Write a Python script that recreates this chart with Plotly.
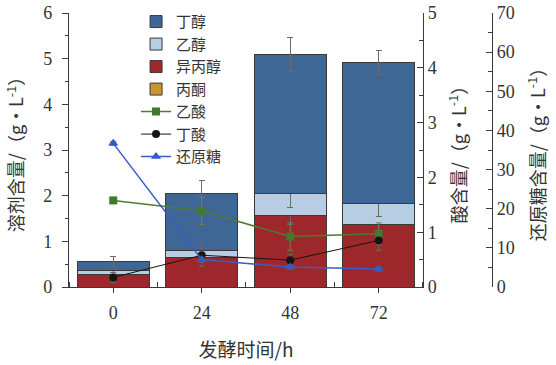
import plotly.graph_objects as go

# ---------------- data ----------------
time_labels = ["0", "24", "48", "72"]
x_pos = [0, 1, 2, 3]

butanol = [0.20, 1.24, 3.04, 3.08]
ethanol = [0.085, 0.16, 0.49, 0.455]
isopropanol = [0.275, 0.65, 1.56, 1.375]
acetone = [0.0, 0.0, 0.0, 0.0]

butanol_err = [0.11, 0.28, 0.38, 0.26]
ethanol_err = [0.05, 0.10, 0.30, 0.28]
isopropanol_err = [0.05, 0.06, 0.20, 0.20]

acetic = [1.58, 1.39, 0.92, 0.97]
acetic_err = [0.05, 0.25, 0.25, 0.20]
butyric = [0.175, 0.58, 0.49, 0.85]
butyric_err = [0.09, 0.20, 0.10, 0.18]
sugar = [36.7, 7.0, 5.1, 4.6]
sugar_err = [0.5, 0.6, 0.5, 0.5]

# ---------------- style ----------------
FONT = "Liberation Serif, Noto Sans CJK SC, serif"
TFONT = "Noto Sans CJK SC, Liberation Serif, sans-serif"
AX = "#3a3a3a"
ERR = "#6a6a6a"
BAR_W = 0.81

L_M, R_M, T_M, B_M = 69, 556 - 491.7, 12.7, 365 - 287.3
PAPER_W = 556 - L_M - R_M
PAPER_H = 365 - T_M - B_M
PLOT_W = 353.7

fig = go.Figure()

def bar(name, vals, errs, color, rank):
    fig.add_trace(go.Bar(
        x=x_pos, y=vals, name=name, width=BAR_W, legendrank=rank,
        marker=dict(color=color, line=dict(color="#3a3a3a", width=1)),
        error_y=dict(type="data", array=errs, color=ERR, thickness=1, width=3) if errs else None,
    ))

bar("丙酮", acetone, None, "#c9952c", 4)
bar("异丙醇", isopropanol, isopropanol_err, "#9e272b", 3)
bar("乙醇", ethanol, ethanol_err, "#b6cde3", 2)
bar("丁醇", butanol, butanol_err, "#3f6795", 1)

fig.add_trace(go.Scatter(
    x=x_pos, y=acetic, name="乙酸", yaxis="y2", mode="lines+markers", legendrank=5,
    line=dict(color="#4f7a36", width=1.5),
    marker=dict(symbol="square", size=8, color="#3d7a2c"),
    error_y=dict(type="data", array=acetic_err, color="#7a7a55", thickness=1, width=3),
))
fig.add_trace(go.Scatter(
    x=x_pos, y=butyric, name="丁酸", yaxis="y2", mode="lines+markers", legendrank=6,
    line=dict(color="#151515", width=1),
    marker=dict(symbol="circle", size=8, color="#151515"),
    error_y=dict(type="data", array=butyric_err, color=ERR, thickness=1, width=3),
))
fig.add_trace(go.Scatter(
    x=x_pos, y=sugar, name="还原糖", yaxis="y3", mode="lines+markers", legendrank=7,
    line=dict(color="#3a5cc4", width=1.5),
    marker=dict(symbol="triangle-up", size=9, color="#2f5cc8"),
    error_y=dict(type="data", array=sugar_err, color=ERR, thickness=1, width=3),
))

DOM = PLOT_W / PAPER_W

fig.update_layout(
    width=556, height=365,
    margin=dict(l=L_M, r=R_M, t=T_M, b=B_M, autoexpand=False),
    paper_bgcolor="white", plot_bgcolor="white",
    barmode="stack",
    font=dict(family=FONT, size=18, color="#333333"),
    showlegend=True,
    legend=dict(
        x=(136 - L_M) / PAPER_W, y=1 + (T_M - 5) / PAPER_H, xanchor="left", yanchor="top",
        bgcolor="rgba(0,0,0,0)", font=dict(size=15, family=FONT, color="#333333"),
        traceorder="normal", itemwidth=30, tracegroupgap=0, maxheight=300,
    ),
    xaxis=dict(
        domain=[0, DOM], range=[-0.5, 3.5],
        tickmode="array", tickvals=x_pos, ticktext=time_labels,
        ticks="outside", ticklen=5, tickcolor=AX, tickwidth=1,
        showline=True, linecolor=AX, linewidth=1.3, mirror=False,
        showgrid=False, zeroline=False, ticklabelstandoff=4,
        minor=dict(tickmode="array", tickvals=[-0.5, 0.5, 1.5, 2.5, 3.5],
                   ticks="inside", ticklen=5, tickcolor=AX),
        title=dict(text="发酵时间/h", font=dict(size=19, family=TFONT), standoff=21),
        tickfont=dict(size=18),
    ),
    yaxis=dict(
        range=[0, 6], dtick=1, ticks="outside", ticklen=6, tickcolor=AX,
        showline=True, linecolor=AX, linewidth=1.3, showgrid=False, zeroline=False,
        minor=dict(dtick=0.5, ticks="outside", ticklen=3, tickcolor=AX),
        ticklabelstandoff=6, ticklabeloverflow="allow",
        title=dict(text="溶剂含量/（g•L<sup>-1</sup>）", font=dict(size=18, family=TFONT), standoff=14),
        tickfont=dict(size=18),
    ),
    yaxis2=dict(
        range=[0, 5], dtick=1, overlaying="y", side="right", anchor="x",
        ticks="inside", ticklen=6, tickcolor=AX, ticklabeloverflow="allow",
        showline=True, linecolor=AX, linewidth=1.3, showgrid=False, zeroline=False,
        minor=dict(dtick=0.5, ticks="inside", ticklen=4, tickcolor=AX),
        title=dict(text="酸含量/（g•L<sup>-1</sup>）", font=dict(size=18, family=TFONT), standoff=17),
        tickfont=dict(size=18),
    ),
    yaxis3=dict(
        range=[0, 70], dtick=10, overlaying="y", side="right", anchor="free", position=1.0,
        ticks="inside", ticklen=6, tickcolor=AX, ticklabeloverflow="allow",
        showline=True, linecolor=AX, linewidth=1.3, showgrid=False, zeroline=False,
        minor=dict(dtick=5, ticks="inside", ticklen=4, tickcolor=AX),
        title=dict(text="还原糖含量/（g•L<sup>-1</sup>）", font=dict(size=18, family=TFONT), standoff=18),
        tickfont=dict(size=18),
    ),
)

fig.write_html("out.html", config={"displayModeBar": False},
               post_script="document.body.style.margin='0px';")
